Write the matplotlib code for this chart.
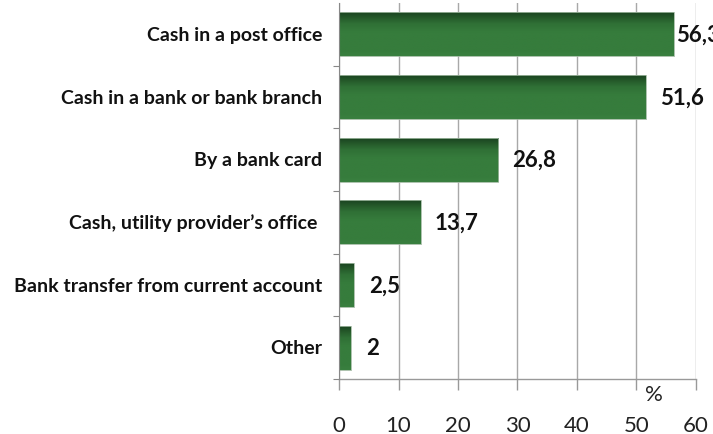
import numpy as np
import matplotlib.pyplot as plt
from matplotlib.colors import LinearSegmentedColormap

# payment methods, top to bottom
methods = ['Cash in a post office',
           'Cash in a bank or bank branch',
           'By a bank card',
           'Cash, utility provider\u2019s office ',
           'Bank transfer from current account',
           'Other']
shares = [56.3, 51.6, 26.8, 13.7, 2.5, 2]
share_labels = ['56,3', '51,6', '26,8', '13,7', '2,5', '2']
xticks = [0, 10, 20, 30, 40, 50, 60]

# vertical shading for bars: dark top edge fading into mid green
bar_cmap = LinearSegmentedColormap.from_list(
    'bar', [(0.0, '#1b4420'), (0.25, '#2f6f35'), (0.45, '#367c3c'),
            (0.9, '#367c3c'), (1.0, '#3a8040')])

fig = plt.figure(figsize=(7.13, 4.35), dpi=100)
ax = fig.add_axes([0.4755, 0.1264, 0.5005, 0.8644])

y = np.arange(len(methods))
bars = ax.barh(y, shares, height=0.7, color='none', zorder=2)
grad = np.linspace(0, 1, 64).reshape(-1, 1)
for b in bars:
    x0, y0 = b.get_x(), b.get_y()
    w, h = b.get_width(), b.get_height()
    ax.imshow(grad, cmap=bar_cmap, aspect='auto', zorder=2,
              extent=[x0, x0 + w, y0 + h, y0], interpolation='bilinear')
    ax.add_patch(plt.Rectangle((x0, y0), w, h, fill=False,
                               ec='#9fb8a0', lw=0.6, zorder=3))

ax.set_xlim(0, 60)
ax.set_ylim(len(methods) - 0.5, -0.5)

# value labels
offsets = [2, 14, 14, 14, 15, 15]
for yi, v, lbl, off in zip(y, shares, share_labels, offsets):
    ax.annotate(lbl, (v, yi), xytext=(off, 0), textcoords='offset pixels',
                ha='left', va='center', fontsize=16, fontweight='bold',
                family='Lato', color='#111111', annotation_clip=False)

ax.set_yticks(y + 0.5, minor=False)
ax.set_yticklabels([])
ax.tick_params(axis='y', length=4, color='#888888', width=0.8)
for yi, name in zip(y, methods):
    ax.annotate(name, (0, yi), xycoords=('axes fraction', 'data'),
                xytext=(-17, 0), textcoords='offset pixels',
                ha='right', va='center', fontsize=14, fontweight='bold',
                family='Lato', color='#111111')

ax.set_xticks(xticks)
ax.set_xticklabels([str(t) for t in xticks], fontsize=16, family='Lato',
                   color='#222222')
ax.tick_params(axis='x', length=8, color='#999999', width=1, pad=18)
ax.grid(axis='x', color='#a8a8a8', lw=1, zorder=0)
ax.set_axisbelow(True)

for s in ['top', 'right']:
    ax.spines[s].set_visible(False)
ax.spines['left'].set_color('#888888')
ax.spines['bottom'].set_color('#999999')
ax.spines['bottom'].set_linewidth(1)
ax.spines['left'].set_zorder(4)

ax.annotate('%', (53, 0), xycoords=('data', 'axes fraction'),
            xytext=(0, -5), textcoords='offset pixels', ha='center',
            va='top', fontsize=16, family='Lato', color='#222222',
            annotation_clip=False)

fig.savefig('out.png', dpi=100)
